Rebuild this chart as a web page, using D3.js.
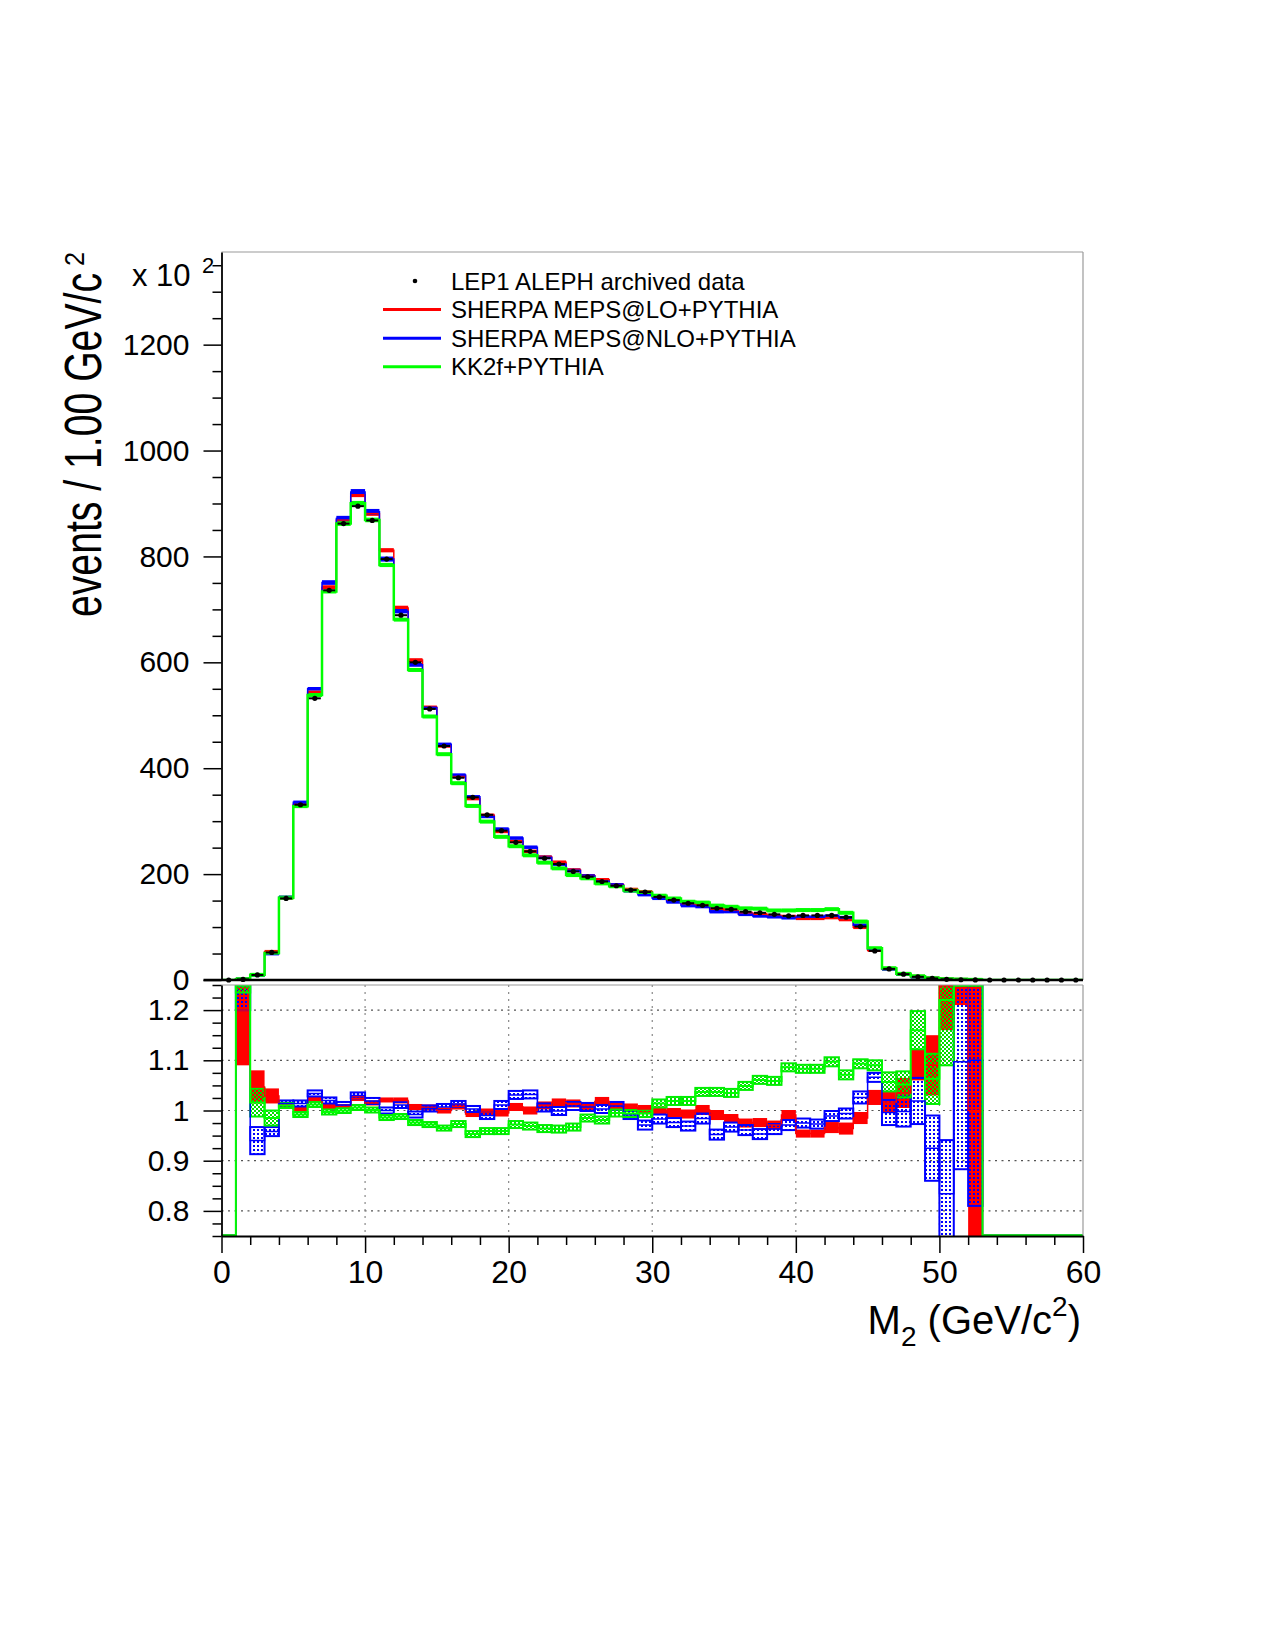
<!DOCTYPE html>
<html><head><meta charset="utf-8">
<script src="https://cdn.jsdelivr.net/npm/d3@7"></script>
<style>body{margin:0;background:#fff}svg{display:block}</style>
</head><body>
<svg id="c" width="1275" height="1650"></svg>
<script>
// ---------- data (1 GeV bins from 0 to 60) ----------
const binLowEdges = d3.range(0, 60);
const dataValues = [0,1,9.5,52,154,331,532,736,862,895, 868,795,689,600,512,442,382,345,312,282,
  260,243,230,219,205,195,186,178,170,166, 157,151,145,141,135.5,133.6,129,127,124,121,
  122,122,122,118.5,101,55,21,11,6,3, 1.2,0.5,0.2,0,0,0,0,0,0,0];
const sherpaLO = [0,1.2,9.9,53.5,155.5,331.7,543.7,741.9,868.9,916.5, 881.0,811.7,702.8,604.2,515.1,442,385.1,342.6,311.1,280.6,
  261.8,243,232.3,222.5,207.9,196.8,189.3,179.8,171,166.5, 157,150.4,144,141.1,134.3,131.5,125.8,124,120.4,119.9,
  116.4,116.4,117.9,114.2,99.5,56.4,21.4,11.4,6.5,3.3, 1.6,0.7,0.2,0,0,0,0,0,0,0];
const sherpaNLO = [0,1.3,8.9,49.8,156.2,335.6,550.1,750.7,871.5,921.9, 884.5,795,696.6,595.2,514,445.1,387,346,308.9,285.1,
  268.1,250.8,231.4,218.8,206.8,196.4,186.6,179.6,168.5,161.2, 154.3,147.4,140.5,138.7,129,129.2,124,121,119.4,117.5,
  119,118.7,120.7,117.8,103.6,58.6,20.9,11,6.1,2.8, 1.0,0.6,0.2,0,0,0,0,0,0,0];
const kk2f = [0,1.4,9.7,51.2,155.5,328.4,538.4,733.8,862,900.4, 868.9,783.9,680.7,585.6,497.7,426.5,371.7,328.8,299.2,270.4,
  252.7,235.5,221.7,210.9,198.2,192.1,182.5,177.1,169,165, 159.2,153.9,147.8,146.2,140.5,138.3,135.3,134.7,131.3,131.4,
  132.1,132.1,133.8,126.9,110.4,60,22.2,11.6,7,3.2, 1.5,0.8,0.3,0,0,0,0,0,0,0];

// ratio MC / data (lower panel) and half-widths of the uncertainty bands
const ratioLO = [0,1.20,1.047,1.029,1.010,1.002,1.022,1.008,1.008,1.024, 1.015,1.021,1.020,1.007,1.006,1.000,1.008,0.993,0.997,0.995,
  1.007,1.000,1.010,1.016,1.014,1.009,1.018,1.010,1.006,1.003, 1.000,0.996,0.993,1.001,0.991,0.984,0.975,0.976,0.971,0.991,
  0.954,0.954,0.966,0.964,0.985,1.026,1.017,1.035,1.091,1.090, 1.30,1.35,1.00,0,0,0,0,0,0,0];
const ratioLOErr = [0,0.11,0.033,0.015,0.006,0.005,0.005,0.005,0.005,0.005, 0.005,0.005,0.006,0.006,0.006,0.006,0.006,0.006,0.007,0.007,
  0.008,0.008,0.008,0.008,0.008,0.008,0.009,0.008,0.008,0.008, 0.008,0.009,0.009,0.010,0.010,0.009,0.009,0.009,0.009,0.010,
  0.008,0.008,0.011,0.012,0.012,0.015,0.020,0.030,0.031,0.060, 0.14,0.14,0.45,0,0,0,0,0,0,0];
const ratioNLO = [0,1.30,0.940,0.958,1.014,1.014,1.034,1.020,1.011,1.030, 1.019,1.000,1.011,0.992,1.004,1.007,1.013,1.003,0.990,1.011,
  1.031,1.032,1.006,0.999,1.009,1.007,1.003,1.009,0.991,0.971, 0.983,0.976,0.969,0.984,0.952,0.967,0.961,0.953,0.963,0.971,
  0.975,0.973,0.989,0.994,1.026,1.066,0.996,0.998,1.019,0.925, 0.834,1.097,1.10,0,0,0,0,0,0,0];
const ratioNLOErr = [0,0.10,0.027,0.009,0.006,0.006,0.006,0.006,0.006,0.006, 0.006,0.006,0.006,0.006,0.006,0.006,0.006,0.006,0.007,0.008,
  0.008,0.008,0.008,0.008,0.008,0.008,0.008,0.008,0.008,0.009, 0.009,0.009,0.009,0.010,0.010,0.009,0.010,0.010,0.010,0.010,
  0.009,0.009,0.010,0.010,0.012,0.009,0.025,0.030,0.046,0.065, 0.107,0.214,0.29,0,0,0,0,0,0,0];
const ratioKK = [0,1.38,1.016,0.985,1.010,0.992,1.012,0.997,1.000,1.006, 1.001,0.986,0.988,0.976,0.972,0.965,0.973,0.953,0.959,0.959,
  0.972,0.969,0.964,0.963,0.967,0.985,0.981,0.995,0.994,0.994, 1.014,1.019,1.019,1.037,1.037,1.035,1.049,1.061,1.059,1.086,
  1.083,1.083,1.097,1.071,1.093,1.090,1.057,1.052,1.160,1.063, 1.22,1.60,1.60,0,0,0,0,0,0,0];
const ratioKKErr = [0,0.145,0.028,0.015,0.005,0.005,0.005,0.005,0.005,0.005, 0.005,0.005,0.005,0.005,0.005,0.005,0.006,0.006,0.006,0.006,
  0.007,0.007,0.007,0.007,0.007,0.007,0.007,0.007,0.007,0.007, 0.008,0.008,0.008,0.008,0.008,0.008,0.008,0.008,0.008,0.008,
  0.008,0.008,0.009,0.009,0.009,0.010,0.019,0.026,0.038,0.050, 0.13,0.30,0.30,0,0,0,0,0,0,0];

const xTicks = [0,10,20,30,40,50,60];
const yMainTicks = [0,200,400,600,800,1000,1200];
const yRatioTicks = [0.8,0.9,1,1.1,1.2];
const legendLabels = ["LEP1 ALEPH archived data","SHERPA MEPS@LO+PYTHIA","SHERPA MEPS@NLO+PYTHIA","KK2f+PYTHIA"];
const legendColors = ["#000000","#ff0000","#0000ff","#00ff00"];

// ---------- setup ----------
const FONT = "'Liberation Sans', Arial, Helvetica, sans-serif";
const svg = d3.select('#c');
const x = d3.scaleLinear().domain([0,60]).range([221.5,1083]);
const yMain = d3.scaleLinear().domain([0,1375]).range([980,252]);
const yRat = d3.scaleLinear().domain([0.75,1.25]).range([1236,985]);

const defs = svg.append('defs');
defs.append('clipPath').attr('id','clipMain').append('rect')
  .attr('x',x(0)).attr('y',yMain(1375)).attr('width',x(60)-x(0)).attr('height',yMain(0)-yMain(1375));
defs.append('clipPath').attr('id','clipRat').append('rect')
  .attr('x',x(0)).attr('y',yRat(1.25)).attr('width',x(60)-x(0)).attr('height',yRat(0.75)-yRat(1.25));
const pb = defs.append('pattern').attr('id','patBlue').attr('width',4).attr('height',4).attr('patternUnits','userSpaceOnUse');
pb.append('rect').attr('x',1).attr('y',1).attr('width',2).attr('height',2).attr('fill','#0000ff');
const pg = defs.append('pattern').attr('id','patGreen').attr('width',4).attr('height',4).attr('patternUnits','userSpaceOnUse');
pg.append('rect').attr('x',0).attr('y',0).attr('width',2).attr('height',2).attr('fill','#00dd00');
pg.append('rect').attr('x',2).attr('y',2).attr('width',2).attr('height',2).attr('fill','#00dd00');

const series = [
  {name:'LO', main:sherpaLO, ratio:ratioLO, err:ratioLOErr, color:'#ff0000', fill:'#ff0000', stroke:'none', lw:1.5},
  {name:'NLO', main:sherpaNLO, ratio:ratioNLO, err:ratioNLOErr, color:'#0000ff', fill:'url(#patBlue)', stroke:'#0000ff', lw:1.5},
  {name:'KK', main:kk2f, ratio:ratioKK, err:ratioKKErr, color:'#00ff00', fill:'url(#patGreen)', stroke:'#00ee00', lw:2.5}
];

// ---------- ratio panel grid ----------
const grid = svg.append('g');
grid.selectAll('line.h').data(yRatioTicks).join('line')
  .attr('x1',x(0)).attr('x2',x(60)).attr('y1',d=>yRat(d)).attr('y2',d=>yRat(d))
  .attr('stroke','#555').attr('stroke-width',1.2).attr('stroke-dasharray','2,4.5');
grid.selectAll('line.v').data(xTicks.filter(d=>d>0&&d<60)).join('line')
  .attr('y1',yRat(1.25)).attr('y2',yRat(0.75)).attr('x1',d=>x(d)).attr('x2',d=>x(d))
  .attr('stroke','#888').attr('stroke-width',1.2).attr('stroke-dasharray','2,5');

// ---------- main panel ----------
const gMain = svg.append('g').attr('clip-path','url(#clipMain)');
const stepLine = (yScale, vals, lo, hi) => d3.line().curve(d3.curveStepAfter)
  .x(d=>x(d[0])).y(d=>yScale(Math.max(lo, Math.min(hi, d[1]))))(
    binLowEdges.map(i=>[i, vals[i]]).concat([[60, vals[59]]]));

series.forEach(s => {
  const minH = s.name==='KK'?4:3.5;
  const bands = binLowEdges.map(i => ({i, v:s.main[i], e:s.err[i]*dataValues[i]})).filter(d=>d.v>0);
  const hOf = d => Math.max(minH, yMain(d.v-d.e)-yMain(d.v+d.e));
  gMain.append('g').selectAll('rect').data(bands).join('rect')
    .attr('x',d=>x(d.i)).attr('width',d=>x(d.i+1)-x(d.i))
    .attr('y',d=>yMain(d.v)-hOf(d)/2).attr('height',hOf)
    .attr('fill',s.color);
});
series.forEach(s => {
  gMain.append('path').attr('d', stepLine(yMain, s.main, -10, 2000))
    .attr('fill','none').attr('stroke',s.color).attr('stroke-width',s.lw);
});
// data points
const gData = svg.append('g');
gData.selectAll('line').data(binLowEdges).join('line')
  .attr('x1',i=>x(i+0.5)-6).attr('x2',i=>x(i+0.5)+6)
  .attr('y1',i=>yMain(dataValues[i])).attr('y2',i=>yMain(dataValues[i]))
  .attr('stroke','#000').attr('stroke-width',2);
gData.selectAll('circle').data(binLowEdges).join('circle')
  .attr('cx',i=>x(i+0.5)).attr('cy',i=>yMain(dataValues[i])).attr('r',2.6).attr('fill','#000');

// ---------- ratio panel ----------
const gRat = svg.append('g').attr('clip-path','url(#clipRat)');
series.forEach(s => {
  const boxes = binLowEdges.map(i=>({i, r:s.ratio[i], e:s.err[i]})).filter(d=>d.r>0);
  gRat.append('g').selectAll('rect').data(boxes).join('rect')
    .attr('x',d=>x(d.i)).attr('width',d=>x(d.i+1)-x(d.i))
    .attr('y',d=>yRat(d.r+d.e)).attr('height',d=>Math.max(2, yRat(d.r-d.e)-yRat(d.r+d.e)))
    .attr('fill',s.fill).attr('stroke',s.stroke).attr('stroke-width',2);
});
series.forEach(s => {
  gRat.append('path').attr('d', stepLine(yRat, s.ratio, 0.7515, 1.2485))
    .attr('fill','none').attr('stroke',s.color).attr('stroke-width', s.name==='KK'?2:1.5);
});

// ---------- frames ----------
const frame = svg.append('g').attr('stroke','#9a9a9a').attr('stroke-width',1.2);
frame.append('line').attr('x1',x(0)).attr('x2',x(60)).attr('y1',yMain(1375)).attr('y2',yMain(1375));
frame.append('line').attr('x1',x(60)).attr('x2',x(60)).attr('y1',yMain(1375)).attr('y2',yMain(0));
frame.append('line').attr('x1',x(0)).attr('x2',x(60)).attr('y1',yRat(1.25)).attr('y2',yRat(1.25));
frame.append('line').attr('x1',x(60)).attr('x2',x(60)).attr('y1',yRat(1.25)).attr('y2',yRat(0.75));

// ---------- axes ----------
function styleAxis(g, fs){
  g.attr('font-family',FONT).attr('font-size',fs);
  g.selectAll('line').attr('stroke','#000').attr('stroke-width',1.5);
  g.select('.domain').attr('stroke','#000').attr('stroke-width',1.8);
  g.selectAll('text').attr('fill','#000');
}
// main y
const gyM = svg.append('g').attr('transform',`translate(${x(0)},0)`)
  .call(d3.axisLeft(yMain).tickValues(yMainTicks).tickFormat(d3.format('d')).tickSize(18).tickPadding(14).tickSizeOuter(0));
styleAxis(gyM, 30);
const gyMm = svg.append('g').attr('transform',`translate(${x(0)},0)`)
  .call(d3.axisLeft(yMain).tickValues(d3.range(50,1376,50).filter(v=>v%200!==0)).tickFormat('').tickSize(9).tickSizeOuter(0));
styleAxis(gyMm, 10); gyMm.select('.domain').remove();
// main x baseline (thick)
svg.append('line').attr('x1',x(0)-18).attr('x2',x(60)).attr('y1',yMain(0)).attr('y2',yMain(0))
  .attr('stroke','#000').attr('stroke-width',2.6);
// ratio y
const gyR = svg.append('g').attr('transform',`translate(${x(0)},0)`)
  .call(d3.axisLeft(yRat).tickValues(yRatioTicks).tickFormat(d=>String(d)).tickSize(18).tickPadding(14).tickSizeOuter(0));
styleAxis(gyR, 30);
const gyRm = svg.append('g').attr('transform',`translate(${x(0)},0)`)
  .call(d3.axisLeft(yRat).tickValues(d3.range(30,51).filter(k=>k%4!==0).map(k=>k*0.025)).tickFormat('').tickSize(9).tickSizeOuter(0));
styleAxis(gyRm, 10); gyRm.select('.domain').remove();
// ratio x
const gx = svg.append('g').attr('transform',`translate(0,${yRat(0.75)})`)
  .call(d3.axisBottom(x).tickValues(xTicks).tickFormat(d3.format('d')).tickSize(17).tickPadding(7).tickSizeOuter(0));
styleAxis(gx, 32);
const gxm = svg.append('g').attr('transform',`translate(0,${yRat(0.75)})`)
  .call(d3.axisBottom(x).tickValues(d3.range(0,61,2).filter(v=>v%10!==0)).tickFormat('').tickSize(9).tickSizeOuter(0));
styleAxis(gxm, 10); gxm.select('.domain').remove();

// ---------- titles ----------
svg.append('text').attr('x',132).attr('y',286).attr('font-family',FONT).attr('font-size',31).text('x 10');
svg.append('text').attr('x',202).attr('y',273).attr('font-family',FONT).attr('font-size',22).text('2');

svg.append('text').attr('transform','translate(101,617) rotate(-90)')
  .attr('font-family',FONT).attr('font-size',51).attr('textLength',344).attr('lengthAdjust','spacingAndGlyphs')
  .text('events / 1.00 GeV/c');
svg.append('text').attr('transform','translate(84,266) rotate(-90)')
  .attr('font-family',FONT).attr('font-size',27).attr('textLength',14).attr('lengthAdjust','spacingAndGlyphs')
  .text('2');

const xt = svg.append('text').attr('x',1081).attr('y',1334).attr('text-anchor','end')
  .attr('font-family',FONT).attr('font-size',40);
xt.append('tspan').text('M');
xt.append('tspan').attr('font-size',28).attr('dy',12).text('2');
xt.append('tspan').attr('dy',-12).text(' (GeV/c');
xt.append('tspan').attr('font-size',28).attr('dy',-18).text('2');
xt.append('tspan').attr('dy',18).text(')');

// ---------- legend ----------
const leg = svg.append('g').attr('font-family',FONT).attr('font-size',24);
legendLabels.forEach((lab,k) => {
  const yc = 281 + k*28.6;
  if (k===0) {
    leg.append('circle').attr('cx',415).attr('cy',yc).attr('r',2.3).attr('fill','#000');
  } else {
    leg.append('line').attr('x1',383).attr('x2',441).attr('y1',yc).attr('y2',yc)
      .attr('stroke',legendColors[k]).attr('stroke-width',3);
  }
  leg.append('text').attr('x',451).attr('y',yc+8.5).attr('fill','#000').text(lab);
});
</script>
</body></html>
